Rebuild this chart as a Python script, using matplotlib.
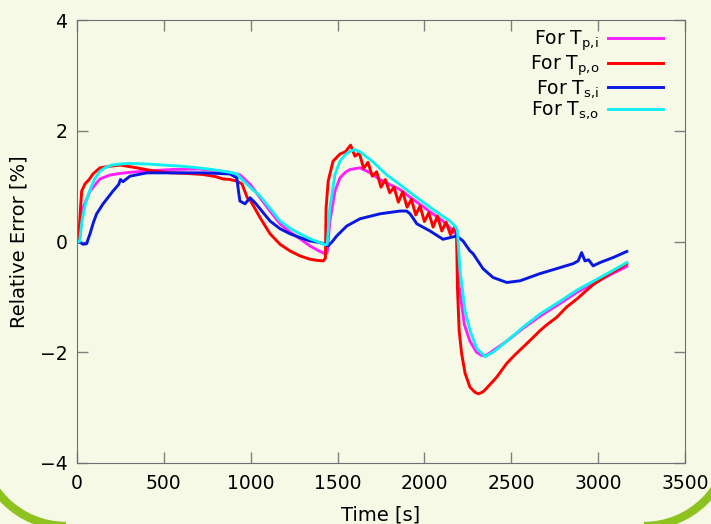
import numpy as np
import matplotlib.pyplot as plt
from matplotlib.patches import Arc

# Datos (tiempo [s], error relativo [%])
t_pi = [0, 15, 35, 75, 132, 190, 250, 305, 437, 550,
        700, 800, 880, 940, 1000, 1054, 1111, 1169, 1226, 1284,
        1341, 1399, 1428, 1440, 1456, 1485, 1514, 1545, 1572, 1629,
        1687, 1744, 1800, 1859, 1917, 1975, 2040, 2107, 2165, 2185,
        2200, 2230, 2262, 2300, 2330, 2360, 2400, 2474, 2567, 2665,
        2761, 2877, 2971, 3070, 3165]
e_pi = [0.0, 0.05, 0.61, 0.91, 1.13, 1.20, 1.23, 1.25, 1.28, 1.30,
        1.31, 1.28, 1.25, 1.20, 1.02, 0.79, 0.55, 0.32, 0.17, 0.05,
        -0.08, -0.18, -0.22, -0.2, 0.37, 0.91, 1.15, 1.25, 1.30, 1.33,
        1.24, 1.12, 1.03, 0.94, 0.80, 0.67, 0.52, 0.37, 0.19, 0.12,
        -0.8, -1.5, -1.8, -2.0, -2.06, -2.05, -1.96, -1.8, -1.57, -1.35,
        -1.16, -0.92, -0.76, -0.6, -0.45]

t_po = [0, 10, 20, 27, 46, 70, 92, 132, 190, 250,
        345, 430, 535, 630, 725, 800, 840, 880, 920, 950,
        980, 1000, 1054, 1111, 1169, 1226, 1284, 1341, 1380, 1418,
        1430, 1434, 1446, 1474, 1514, 1545,
        1575, 1600, 1625, 1650, 1675, 1700, 1725, 1750, 1775, 1800,
        1825, 1850, 1875, 1900, 1925, 1950, 1975, 2000, 2025, 2050,
        2075, 2100, 2125, 2150, 2175,
        2185, 2190, 2200, 2214, 2234, 2262, 2290, 2310, 2335, 2358,
        2416, 2474, 2520, 2567, 2620, 2665, 2710, 2761, 2820, 2877,
        2920, 2971, 3020, 3068, 3120, 3165]
e_po = [0.0, 0.05, 0.6, 0.91, 1.04, 1.12, 1.22, 1.33, 1.36, 1.38,
        1.33, 1.28, 1.24, 1.23, 1.21, 1.17, 1.13, 1.12, 1.09, 1.04,
        0.79, 0.73, 0.43, 0.14, -0.05, -0.17, -0.26, -0.32, -0.34, -0.35,
        -0.3, 0.61, 1.09, 1.45, 1.58, 1.62,
        1.74, 1.54, 1.60, 1.32, 1.43, 1.18, 1.26, 0.98, 1.12, 0.88,
        0.98, 0.71, 0.90, 0.62, 0.76, 0.48, 0.64, 0.36, 0.52, 0.26,
        0.46, 0.19, 0.35, 0.12, 0.27,
        0.15, -0.83, -1.61, -2.02, -2.38, -2.63, -2.72, -2.75, -2.72, -2.65,
        -2.45, -2.20, -2.05, -1.91, -1.75, -1.61, -1.49, -1.37, -1.18, -1.04,
        -0.92, -0.78, -0.68, -0.58, -0.49, -0.40]

t_si = [0, 20, 35, 55, 75, 95, 113, 150, 207, 240,
        250, 265, 305, 403, 535, 725, 880, 920, 930, 938,
        967, 996, 1025, 1054, 1111, 1169, 1226, 1284, 1341, 1399,
        1428, 1446, 1470, 1495, 1553, 1629, 1744, 1859, 1898, 1917,
        1935, 1956, 2032, 2107, 2147, 2186, 2222, 2262, 2280, 2337,
        2395, 2474, 2550, 2665, 2761, 2856, 2885, 2905, 2924, 2945,
        2971, 3011, 3086, 3165]
e_si = [0.0, -0.02, -0.05, -0.04, 0.14, 0.35, 0.50, 0.68, 0.91, 1.03,
        1.12, 1.08, 1.18, 1.24, 1.24, 1.24, 1.22, 1.15, 0.9, 0.73,
        0.68, 0.79, 0.70, 0.59, 0.37, 0.23, 0.14, 0.07, 0.01, -0.02,
        -0.05, -0.08, 0.0, 0.10, 0.28, 0.41, 0.50, 0.55, 0.55, 0.50,
        0.42, 0.32, 0.19, 0.04, 0.07, 0.10, 0.01, -0.17, -0.22, -0.49,
        -0.65, -0.74, -0.71, -0.58, -0.49, -0.40, -0.35, -0.20, -0.35, -0.33,
        -0.44, -0.38, -0.29, -0.18]

t_so = [0, 15, 30, 50, 75, 100, 130, 160, 200, 250,
        300, 400, 500, 600, 700, 800, 880, 920, 950, 1000,
        1054, 1111, 1169, 1226, 1284, 1340, 1399, 1428, 1440, 1456,
        1485, 1514, 1545, 1572, 1600, 1629, 1700, 1784, 1850, 1920,
        1975, 2050, 2100, 2147, 2176, 2190, 2205, 2234, 2262, 2301,
        2349, 2395, 2474, 2567, 2665, 2761, 2877, 2971, 3070, 3165]
e_so = [0.0, 0.0, 0.4, 0.7, 0.93, 1.12, 1.26, 1.33, 1.38, 1.40,
        1.41, 1.40, 1.38, 1.36, 1.33, 1.29, 1.25, 1.22, 1.12, 0.97,
        0.82, 0.60, 0.37, 0.24, 0.14, 0.05, -0.02, -0.06, -0.05, 0.61,
        1.21, 1.45, 1.57, 1.63, 1.66, 1.62, 1.45, 1.20, 1.05, 0.88,
        0.75, 0.58, 0.47, 0.37, 0.28, 0.20, -0.53, -1.25, -1.60, -1.93,
        -2.08, -2.00, -1.80, -1.55, -1.31, -1.12, -0.88, -0.72, -0.55, -0.38]

bg = '#f6f9e6'
fig = plt.figure(figsize=(7.11, 5.24), dpi=100, facecolor=bg)
ax = fig.add_axes([77 / 711, 1 - 463 / 524, 608 / 711, 443 / 524])
ax.set_facecolor(bg)

lw = 2.1
ax.plot(t_pi, e_pi, color='#ff20ff', lw=lw, label=r'For T$_{\mathregular{p{,}i}}$')
ax.plot(t_po, e_po, color='#ff0000', lw=lw, label=r'For T$_{\mathregular{p{,}o}}$')
ax.plot(t_si, e_si, color='#0818e0', lw=lw, label=r'For T$_{\mathregular{s{,}i}}$')
ax.plot(t_so, e_so, color='#10f0f0', lw=lw, label=r'For T$_{\mathregular{s{,}o}}$')

ax.set_xlim(0, 3500)
ax.set_ylim(-4, 4)
ax.set_xticks(range(0, 3501, 500))
ax.set_yticks([-4, -2, 0, 2, 4])
ax.tick_params(direction='in', length=8, width=1, color='#808080',
               top=True, right=True, labelsize=13.5)
ax.tick_params(axis='x', pad=8)
ax.tick_params(axis='y', pad=7)
for s in ax.spines.values():
    s.set_color('#707070')
ax.set_xlabel('Time [s]', fontsize=14, labelpad=9)
ax.set_ylabel('Relative Error [%]', fontsize=14, labelpad=8)

ax.legend(loc='upper right', bbox_to_anchor=(0.985, 1.01), frameon=False,
          markerfirst=False, handlelength=2.9, fontsize=13.5,
          labelspacing=0.0, handletextpad=0.5, borderaxespad=0.3)

# arcos verdes decorativos de la diapositiva
for cx, a1, a2 in [(0.66, 180, 270), (6.44, 270, 360)]:
    arc = Arc((cx, 0.84), 1.72, 1.72, theta1=a1, theta2=a2,
              transform=fig.dpi_scale_trans, color='#8dc21f', lw=6,
              clip_on=False)
    fig.add_artist(arc)

fig.savefig('out.png', dpi=100, facecolor=bg)
